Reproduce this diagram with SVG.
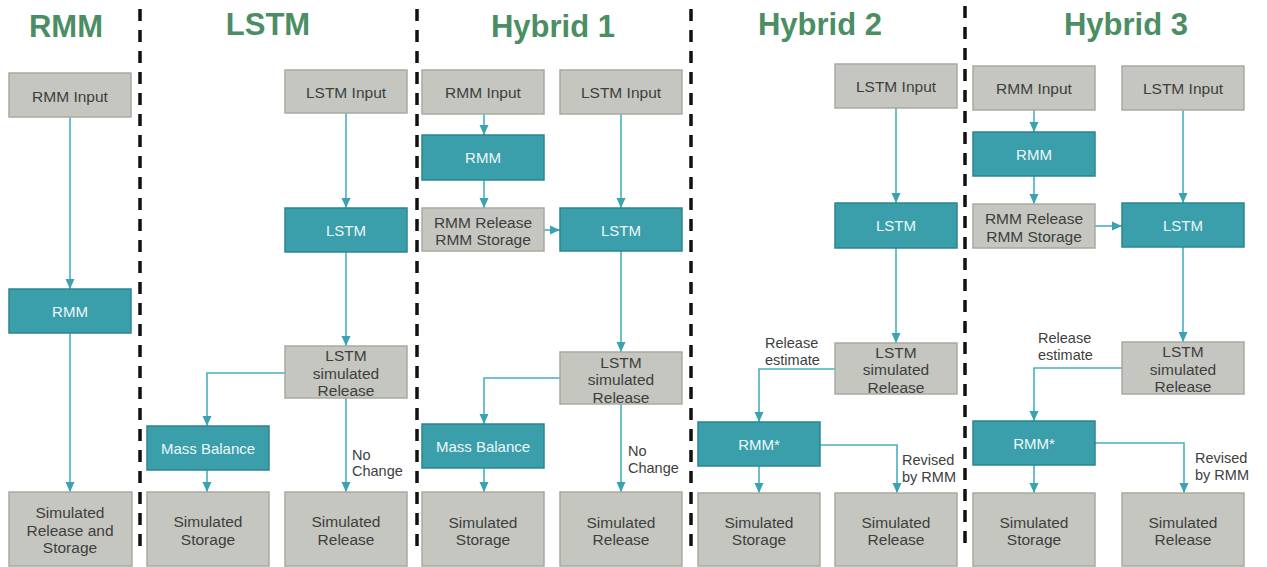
<svg xmlns="http://www.w3.org/2000/svg" width="1267" height="567" viewBox="0 0 1267 567">
<defs>
<marker id="ah" markerUnits="userSpaceOnUse" markerWidth="10" markerHeight="10" viewBox="0 0 10 10" refX="10" refY="5" orient="auto">
<path d="M0,0.5 L10,5 L0,9.5 z" fill="#3aa3b3"/>
</marker>
<style>
.title{font-family:"Liberation Sans",Arial,sans-serif;font-weight:bold;font-size:31px;fill:#4b8e64;text-anchor:middle}
.g rect{fill:#c4c6bf;stroke:#a8aaa2;stroke-width:1.5}
.t rect{fill:#3a9fab;stroke:#2b8590;stroke-width:1.5}
.g text{font-family:"Liberation Sans",Arial,sans-serif;font-size:15.5px;fill:#3e3e3e;text-anchor:middle;dominant-baseline:central}
.t text{font-family:"Liberation Sans",Arial,sans-serif;font-size:15px;fill:#eef7f8;text-anchor:middle;dominant-baseline:central}
.lbl{font-family:"Liberation Sans",Arial,sans-serif;font-size:14.5px;fill:#3e3e3e;dominant-baseline:central}
.c{fill:none;stroke:#4ab0c0;stroke-width:1.6}
.a{marker-end:url(#ah)}
.div{stroke:#111;stroke-width:3.5;stroke-dasharray:12 9}
</style>
</defs>
<rect width="1267" height="567" fill="#ffffff"/>
<g id="titles">
<text class="title" x="66" y="37">RMM</text>
<text class="title" x="268" y="35">LSTM</text>
<text class="title" x="553" y="37">Hybrid 1</text>
<text class="title" x="820" y="35">Hybrid 2</text>
<text class="title" x="1126" y="35">Hybrid 3</text>
</g>
<g id="dividers">
<line class="div" x1="140" y1="9" x2="140" y2="552"/>
<line class="div" x1="417" y1="9" x2="417" y2="552"/>
<line class="div" x1="691" y1="9" x2="691" y2="552"/>
<line class="div" x1="965" y1="6" x2="965" y2="552"/>
</g>
<g id="connectors">
<line class="c a" x1="70" y1="117" x2="70" y2="289"/>
<line class="c a" x1="70" y1="333" x2="70" y2="492"/>
<line class="c a" x1="346" y1="113" x2="346" y2="208"/>
<line class="c a" x1="346" y1="252" x2="346" y2="346"/>
<polyline class="c a" points="285,373 207,373 207,426"/>
<line class="c a" x1="207" y1="470" x2="207" y2="492"/>
<line class="c a" x1="346" y1="398" x2="346" y2="492"/>
<line class="c a" x1="484" y1="114" x2="484" y2="135"/>
<line class="c a" x1="484" y1="180" x2="484" y2="208"/>
<line class="c a" x1="621" y1="114" x2="621" y2="208"/>
<line class="c a" x1="544" y1="230" x2="560" y2="230"/>
<line class="c a" x1="621" y1="251" x2="621" y2="352"/>
<polyline class="c a" points="560,378 484,378 484,424"/>
<line class="c a" x1="484" y1="468" x2="484" y2="492"/>
<line class="c a" x1="621" y1="404" x2="621" y2="492"/>
<line class="c a" x1="896" y1="108" x2="896" y2="203"/>
<line class="c a" x1="896" y1="248" x2="896" y2="343"/>
<polyline class="c a" points="835,369 759,369 759,422"/>
<line class="c a" x1="759" y1="466" x2="759" y2="493"/>
<polyline class="c a" points="820,445 897,445 897,493"/>
<line class="c a" x1="1034" y1="110" x2="1034" y2="132"/>
<line class="c a" x1="1034" y1="176" x2="1034" y2="204"/>
<line class="c a" x1="1183" y1="110" x2="1183" y2="203"/>
<line class="c a" x1="1095" y1="226" x2="1122" y2="226"/>
<line class="c a" x1="1183" y1="247" x2="1183" y2="342"/>
<polyline class="c a" points="1122,368 1034,368 1034,421"/>
<line class="c a" x1="1034" y1="465" x2="1034" y2="493"/>
<polyline class="c a" points="1095,443 1184,443 1184,493"/>
</g>
<g id="labels">
<text class="lbl" x="352" y="455">No</text>
<text class="lbl" x="352" y="471">Change</text>
<text class="lbl" x="628" y="451">No</text>
<text class="lbl" x="628" y="468">Change</text>
<text class="lbl" x="765" y="343">Release</text>
<text class="lbl" x="765" y="360">estimate</text>
<text class="lbl" x="902" y="460">Revised</text>
<text class="lbl" x="902" y="477">by RMM</text>
<text class="lbl" x="1038" y="338">Release</text>
<text class="lbl" x="1038" y="355">estimate</text>
<text class="lbl" x="1195" y="458">Revised</text>
<text class="lbl" x="1195" y="475">by RMM</text>
</g>
<g id="rmm-input" class="g"><rect x="9" y="73" width="122" height="44"/><text x="70" y="96">RMM Input</text></g>
<g id="rmm-model" class="t"><rect x="9" y="289" width="122" height="44"/><text x="70" y="311">RMM</text></g>
<g id="rmm-out" class="g"><rect x="9" y="492" width="123" height="74"/><text x="70" y="512">Simulated</text><text x="70" y="530">Release and</text><text x="70" y="547">Storage</text></g>
<g id="lstm-input" class="g"><rect x="285" y="70" width="122" height="43"/><text x="346" y="92">LSTM Input</text></g>
<g id="lstm-model" class="t"><rect x="285" y="208" width="122" height="44"/><text x="346" y="230">LSTM</text></g>
<g id="lstm-sim" class="g"><rect x="285" y="346" width="122" height="52"/><text x="346" y="355">LSTM</text><text x="346" y="373">simulated</text><text x="346" y="390">Release</text></g>
<g id="lstm-mb" class="t"><rect x="147" y="426" width="122" height="44"/><text x="208" y="448">Mass Balance</text></g>
<g id="lstm-storage" class="g"><rect x="147" y="492" width="122" height="74"/><text x="208" y="521">Simulated</text><text x="208" y="539">Storage</text></g>
<g id="lstm-release" class="g"><rect x="285" y="492" width="122" height="74"/><text x="346" y="521">Simulated</text><text x="346" y="539">Release</text></g>
<g id="h1-rmm-input" class="g"><rect x="422" y="70" width="122" height="44"/><text x="483" y="92">RMM Input</text></g>
<g id="h1-lstm-input" class="g"><rect x="560" y="70" width="122" height="44"/><text x="621" y="92">LSTM Input</text></g>
<g id="h1-rmm" class="t"><rect x="422" y="135" width="122" height="45"/><text x="483" y="157">RMM</text></g>
<g id="h1-rmm-out" class="g"><rect x="422" y="208" width="122" height="43"/><text x="483" y="222">RMM Release</text><text x="483" y="239">RMM Storage</text></g>
<g id="h1-lstm" class="t"><rect x="560" y="208" width="122" height="43"/><text x="621" y="230">LSTM</text></g>
<g id="h1-lstm-sim" class="g"><rect x="560" y="352" width="122" height="52"/><text x="621" y="362">LSTM</text><text x="621" y="379">simulated</text><text x="621" y="397">Release</text></g>
<g id="h1-mb" class="t"><rect x="422" y="424" width="122" height="44"/><text x="483" y="446">Mass Balance</text></g>
<g id="h1-storage" class="g"><rect x="422" y="492" width="122" height="74"/><text x="483" y="522">Simulated</text><text x="483" y="539">Storage</text></g>
<g id="h1-release" class="g"><rect x="560" y="492" width="122" height="74"/><text x="621" y="522">Simulated</text><text x="621" y="539">Release</text></g>
<g id="h2-lstm-input" class="g"><rect x="835" y="64" width="122" height="44"/><text x="896" y="86">LSTM Input</text></g>
<g id="h2-lstm" class="t"><rect x="835" y="203" width="122" height="45"/><text x="896" y="225">LSTM</text></g>
<g id="h2-lstm-sim" class="g"><rect x="835" y="343" width="122" height="51"/><text x="896" y="352">LSTM</text><text x="896" y="369">simulated</text><text x="896" y="387">Release</text></g>
<g id="h2-rmm" class="t"><rect x="698" y="422" width="122" height="44"/><text x="759" y="444">RMM*</text></g>
<g id="h2-storage" class="g"><rect x="698" y="493" width="122" height="73"/><text x="759" y="522">Simulated</text><text x="759" y="539">Storage</text></g>
<g id="h2-release" class="g"><rect x="835" y="493" width="122" height="73"/><text x="896" y="522">Simulated</text><text x="896" y="539">Release</text></g>
<g id="h3-rmm-input" class="g"><rect x="973" y="66" width="122" height="44"/><text x="1034" y="88">RMM Input</text></g>
<g id="h3-lstm-input" class="g"><rect x="1122" y="66" width="122" height="44"/><text x="1183" y="88">LSTM Input</text></g>
<g id="h3-rmm" class="t"><rect x="973" y="132" width="122" height="44"/><text x="1034" y="154">RMM</text></g>
<g id="h3-rmm-out" class="g"><rect x="973" y="204" width="122" height="44"/><text x="1034" y="218">RMM Release</text><text x="1034" y="236">RMM Storage</text></g>
<g id="h3-lstm" class="t"><rect x="1122" y="203" width="122" height="44"/><text x="1183" y="225">LSTM</text></g>
<g id="h3-lstm-sim" class="g"><rect x="1122" y="342" width="122" height="52"/><text x="1183" y="351">LSTM</text><text x="1183" y="369">simulated</text><text x="1183" y="386">Release</text></g>
<g id="h3-rmm-star" class="t"><rect x="973" y="421" width="122" height="44"/><text x="1034" y="443">RMM*</text></g>
<g id="h3-storage" class="g"><rect x="973" y="493" width="122" height="73"/><text x="1034" y="522">Simulated</text><text x="1034" y="539">Storage</text></g>
<g id="h3-release" class="g"><rect x="1122" y="493" width="122" height="73"/><text x="1183" y="522">Simulated</text><text x="1183" y="539">Release</text></g>
</svg>
